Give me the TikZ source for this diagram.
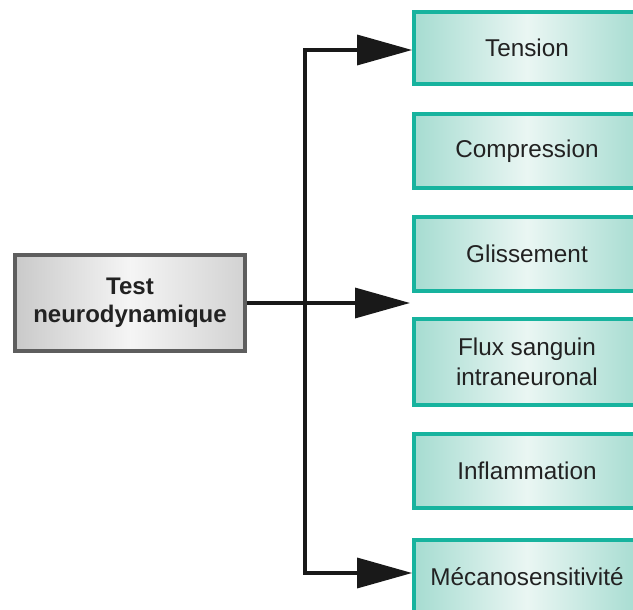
\documentclass[tikz,border=0pt]{standalone}
\usepackage{fontspec}
\setmainfont{Liberation Sans}
\usetikzlibrary{arrows.meta}
\definecolor{tealB}{HTML}{17B39E}
\definecolor{tealL}{HTML}{A6DCD1}
\definecolor{tealM}{HTML}{EAF6F3}
\definecolor{grayB}{HTML}{5E5E5E}
\definecolor{txt}{HTML}{222222}
\tikzset{
  target/.style={draw=tealB, line width=3.8pt, left color=tealL, right color=tealL, middle color=tealM,
    minimum width=226pt, minimum height=#1, inner sep=0pt, align=center, text=txt,
    font=\fontsize{24.3}{30}\selectfont},
  target/.default=72pt,
  source/.style={draw=grayB, line width=4pt, left color=gray!42, right color=gray!35, middle color=gray!8,
    minimum width=230pt, minimum height=96pt, inner sep=0pt, align=center, text=txt,
    font=\fontsize{24}{28}\selectfont\bfseries},
  link/.style={line width=3.4pt, black!90},
  arr/.style={link, -{Triangle[length=55pt,width=30pt]}}
}
\begin{document}
\begin{tikzpicture}[x=1pt,y=-1pt]
\useasboundingbox (0,0) rectangle (633,610);
\node[source] (src) at (130,302.5) {Test\\neurodynamique};
\node[target] (t1) at (527,48) {Tension};
\node[target=74pt] (t2) at (527,151) {Compression};
\node[target=74pt] (t3) at (527,254) {Glissement};
\node[target=86pt] (t4) at (527,362) {Flux sanguin\\intraneuronal};
\node[target=74pt] (t5) at (527,471) {Inflammation};
\node[target=74pt] (t6) at (527,577) {Mécanosensitivité};
\coordinate (top) at (305,50);
\coordinate (bot) at (305,573);
\coordinate (mid) at (410,303);
\draw[link, line cap=rect] (top) -- (bot);
\draw[arr] (top) -- (top -| t1.west);
\draw[arr] (src.east |- mid) -- (mid);
\draw[arr] (bot) -- (bot -| t6.west);
\end{tikzpicture}
\end{document}
